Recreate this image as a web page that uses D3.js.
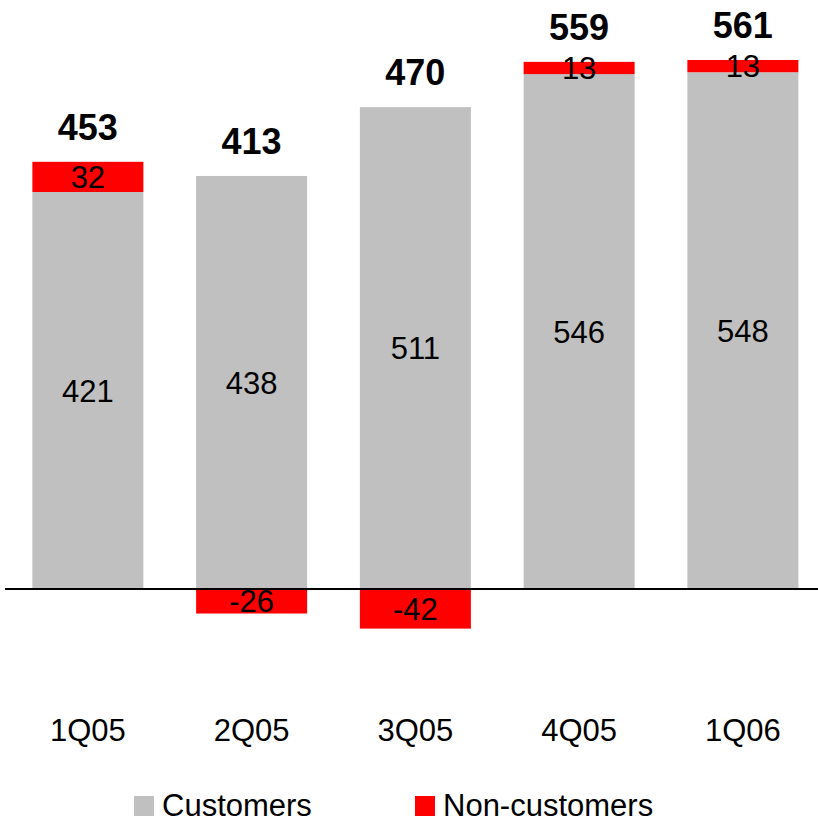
<!DOCTYPE html>
<html>
<head>
<meta charset="utf-8">
<script src="https://cdn.jsdelivr.net/npm/d3@7"></script>
<style>
  html, body { margin: 0; padding: 0; background: #fff; }
  svg { display: block; font-family: "Liberation Sans", Arial, sans-serif; }
</style>
</head>
<body>
<svg id="chart" width="818" height="824"></svg>
<script>
// Quarterly figures: customers vs. non-customers contribution
const quarters = ["1Q05", "2Q05", "3Q05", "4Q05", "1Q06"];
const customers = [421, 438, 511, 546, 548];
const nonCustomers = [32, -26, -42, 13, 13];
const totals = [453, 413, 470, 559, 561];
const seriesNames = ["Customers", "Non-customers"];
const seriesColors = ["#c0c0c0", "#ff0000"];

const svg = d3.select("#chart");
const W = 818;

const x = d3.scaleBand()
  .domain(quarters)
  .range([6, 6 + 5 * 163.75])
  .paddingInner(0.322)
  .paddingOuter(0.161);

const baseY = 589;
const pxPerUnit = 0.943;
const y = d3.scaleLinear()
  .domain([-50, 600])
  .range([baseY + 50 * pxPerUnit, baseY - 600 * pxPerUnit]);

const rows = quarters.map((q, i) => ({
  q, cust: customers[i], non: nonCustomers[i], total: totals[i]
}));

// Customers bars: from zero upward
svg.append("g").selectAll("rect")
  .data(rows).join("rect")
  .attr("x", d => x(d.q))
  .attr("width", x.bandwidth())
  .attr("y", d => y(d.cust))
  .attr("height", d => y(0) - y(d.cust))
  .attr("fill", seriesColors[0]);

// Non-customers: stacked on top when positive, below zero when negative
const nonY0 = d => d.non >= 0 ? d.cust : 0;
const nonY1 = d => d.non >= 0 ? d.cust + d.non : d.non;
svg.append("g").selectAll("rect")
  .data(rows).join("rect")
  .attr("x", d => x(d.q))
  .attr("width", x.bandwidth())
  .attr("y", d => y(Math.max(nonY0(d), nonY1(d))))
  .attr("height", d => Math.abs(y(nonY0(d)) - y(nonY1(d))))
  .attr("fill", seriesColors[1]);

// Zero line
svg.append("line")
  .attr("x1", 5).attr("x2", W)
  .attr("y1", y(0)).attr("y2", y(0))
  .attr("stroke", "#000").attr("stroke-width", 2);

// Segment labels
svg.append("g").selectAll("text")
  .data(rows).join("text")
  .attr("x", d => x(d.q) + x.bandwidth() / 2)
  .attr("y", d => y(d.cust / 2))
  .attr("dy", "0.36em")
  .attr("text-anchor", "middle")
  .attr("font-size", 31)
  .attr("fill", "#000")
  .text(d => d.cust);

svg.append("g").selectAll("text")
  .data(rows).join("text")
  .attr("x", d => x(d.q) + x.bandwidth() / 2)
  .attr("y", d => y((nonY0(d) + nonY1(d)) / 2))
  .attr("dy", "0.36em")
  .attr("text-anchor", "middle")
  .attr("font-size", 31)
  .attr("fill", "#000")
  .text(d => d.non);

// Totals above each column
svg.append("g").selectAll("text")
  .data(rows).join("text")
  .attr("x", d => x(d.q) + x.bandwidth() / 2)
  .attr("y", d => y(d.cust + Math.max(d.non, 0)) - 22)
  .attr("text-anchor", "middle")
  .attr("font-size", 36)
  .attr("font-weight", "bold")
  .attr("fill", "#000")
  .text(d => d.total);

// Category labels
svg.append("g").selectAll("text")
  .data(quarters).join("text")
  .attr("x", d => x(d) + x.bandwidth() / 2)
  .attr("y", 741)
  .attr("text-anchor", "middle")
  .attr("font-size", 31)
  .attr("fill", "#000")
  .text(d => d);

// Legend
const legendX = [134, 415];
const lg = svg.append("g").selectAll("g")
  .data(seriesNames).join("g")
  .attr("transform", (d, i) => `translate(${legendX[i]},796)`);
lg.append("rect")
  .attr("width", 20).attr("height", 20)
  .attr("fill", (d, i) => seriesColors[i]);
lg.append("text")
  .attr("x", 28).attr("y", 20)
  .attr("font-size", 31)
  .attr("fill", "#000")
  .text(d => d);
</script>
</body>
</html>
